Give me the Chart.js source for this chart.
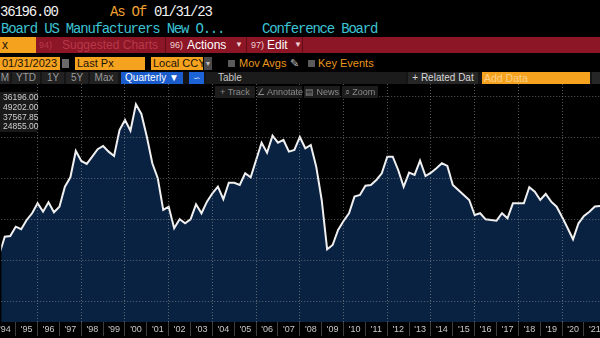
<!DOCTYPE html>
<html>
<head>
<meta charset="utf-8">
<script src="https://cdn.jsdelivr.net/npm/chart.js@4.4.0/dist/chart.umd.min.js"></script>
<style>
  html, body { margin: 0; padding: 0; background: #000; }
  #screen { position: relative; width: 600px; height: 338px; overflow: hidden; background: #000;
            font-family: "Liberation Sans", Arial, sans-serif; }
  .abs { position: absolute; white-space: nowrap; }
  .mono { font-family: "Liberation Mono", "DejaVu Sans Mono", monospace; font-size: 14px;
          letter-spacing: -1.2px; line-height: 16px; }
  .ui { font-size: 12px; line-height: 16px; }
  .box { background: #f5a21f; color: #1a1208; font-size: 11px; line-height: 13px; padding-left: 2px; box-sizing: border-box; }
  .chk { width: 7px; height: 7px; background: #5a5a5a; }
  .btn { background: #222; color: #9a9a9a; font-size: 10px; line-height: 12px; text-align: center; }
  .tool { background: #1d1d1d; color: #8a8a8a; font-size: 9px; line-height: 12px; text-align: center; }
  #legendBox { left: 0; top: 92px; width: 37px; height: 40px; background: rgba(28,28,28,0.9);
               color: #cfcfcf; font-size: 8.5px; line-height: 9.8px; padding: 1px 0 0 3px; box-sizing: border-box; }
  #c { position: absolute; left: 0; top: 84px; }
</style>
</head>
<body>
<div id="screen">
  <!-- title rows -->
  <div class="abs mono" style="left:0;top:4px;color:#f2f2f2">36196.00</div>
  <div class="abs mono" style="left:110px;top:4px;color:#f0a030">As Of</div>
  <div class="abs mono" style="left:154px;top:4px;color:#f2f2f2">01/31/23</div>
  <div class="abs mono" style="left:1px;top:21px;color:#3cc3d3">Board US Manufacturers New O...</div>
  <div class="abs mono" style="left:262px;top:21px;color:#3cc3d3">Conference Board</div>

  <!-- red menu bar -->
  <div class="abs" style="left:0;top:37px;width:600px;height:16px;background:#8c1526"></div>
  <div class="abs box" style="left:0;top:37px;width:36px;height:16px;line-height:16px;font-size:12px">x</div>
  <div class="abs" style="left:165px;top:37px;width:1px;height:16px;background:#5e0d19"></div>
  <div class="abs" style="left:246px;top:37px;width:1px;height:16px;background:#5e0d19"></div>
  <div class="abs" style="left:302px;top:37px;width:1px;height:16px;background:#5e0d19"></div>
  <div class="abs ui" style="left:39px;top:37px;font-size:9px;color:#b8394a">94)</div>
  <div class="abs ui" style="left:62px;top:37px;color:#b8394a">Suggested Charts</div>
  <div class="abs ui" style="left:170px;top:37px;font-size:9px;color:#efd0d4">96)</div>
  <div class="abs ui" style="left:187px;top:37px;color:#fff">Actions</div>
  <div class="abs ui" style="left:235px;top:37px;font-size:8px;color:#efd0d4">&#9660;</div>
  <div class="abs ui" style="left:251px;top:37px;font-size:9px;color:#efd0d4">97)</div>
  <div class="abs ui" style="left:267px;top:37px;color:#fff">Edit</div>
  <div class="abs ui" style="left:294px;top:37px;font-size:8px;color:#efd0d4">&#9660;</div>

  <!-- settings row -->
  <div class="abs box" style="left:0;top:57px;width:60px;height:13px">01/31/2023</div>
  <div class="abs" style="left:62px;top:59px;width:7px;height:9px;background:#6a6a6a"></div>
  <div class="abs box" style="left:75px;top:57px;width:70px;height:13px">Last Px</div>
  <div class="abs box" style="left:151px;top:57px;width:52px;height:13px">Local CCY</div>
  <div class="abs" style="left:204px;top:57px;width:8px;height:13px;background:#4a4a4a;color:#bbb;font-size:7px;line-height:13px;text-align:center">&#9660;</div>
  <div class="abs chk" style="left:228px;top:60px"></div>
  <div class="abs ui" style="left:239px;top:55px;color:#e8961e;font-size:11px">Mov Avgs</div>
  <div class="abs ui" style="left:290px;top:55px;color:#bbb;font-size:11px">&#9998;</div>
  <div class="abs chk" style="left:308px;top:60px"></div>
  <div class="abs ui" style="left:318px;top:55px;color:#e8961e;font-size:11px">Key Events</div>

  <!-- period row -->
  <div class="abs" style="left:0;top:72px;width:600px;height:12px;background:#151515"></div>
  <div class="abs btn" style="left:0;top:72px;width:10px;height:12px">M</div>
  <div class="abs btn" style="left:12px;top:72px;width:28px;height:12px">YTD</div>
  <div class="abs btn" style="left:42px;top:72px;width:22px;height:12px">1Y</div>
  <div class="abs btn" style="left:66px;top:72px;width:22px;height:12px">5Y</div>
  <div class="abs btn" style="left:90px;top:72px;width:28px;height:12px">Max</div>
  <div class="abs btn" style="left:121px;top:72px;width:62px;height:12px;background:#1b5ccc;color:#fff">Quarterly &#9660;</div>
  <div class="abs btn" style="left:189px;top:72px;width:15px;height:12px;background:#1d63d8;color:#cfe0ff;font-size:9px">&#8765;</div>
  <div class="abs btn" style="left:206px;top:72px;width:200px;height:12px;background:#1b1b1b;color:#c8c8c8;text-align:left;padding-left:12px;box-sizing:border-box">Table</div>
  <div class="abs btn" style="left:408px;top:72px;width:70px;height:12px;background:#262626;color:#d8d8d8">+ Related Dat</div>
  <div class="abs box" style="left:482px;top:72px;width:108px;height:12px;line-height:12px;color:#fcd08a;font-size:10.5px">Add Data</div>
  <div class="abs btn" style="left:592px;top:72px;width:8px;height:12px;background:#262626"></div>

  <canvas id="c" width="600" height="254"></canvas>

  <!-- chart tools and value panel -->
  <div class="abs tool" style="left:215px;top:86px;width:40px;height:12px">+ Track</div>
  <div class="abs tool" style="left:257px;top:86px;width:45px;height:12px">&#8736; Annotate</div>
  <div class="abs tool" style="left:304px;top:86px;width:36px;height:12px">&#9636; News</div>
  <div class="abs tool" style="left:342px;top:86px;width:36px;height:12px">&#8981; Zoom</div>
  <div class="abs" id="legendBox"></div>
</div>

<script>
  // last, high, average, low over the shown window
  var panelValues = ["36196.00", "49202.00", "37567.85", "24855.00"];

  var firstYear = 1994;
  var yearLabels = ["'94", "'95", "'96", "'97", "'98", "'99", "'00", "'01", "'02", "'03",
                    "'04", "'05", "'06", "'07", "'08", "'09", "'10", "'11", "'12", "'13",
                    "'14", "'15", "'16", "'17", "'18", "'19", "'20", "'21"];

  // quarterly new orders, Q1..Q4 per row
  var newOrders = [
    24855, 27670, 27790, 29300,   // 1994
    28880, 30390, 31480, 33100,   // 1995
    31740, 33270, 31640, 32550,   // 1996
    35800, 37330, 41610, 39980,   // 1997
    39500, 40680, 41890, 42420,   // 1998
    41500, 40800, 45020, 46650,   // 1999
    44910, 49202, 47630, 43930,   // 2000
    39610, 37170, 32020, 32550,   // 2001
    29040, 30500, 29850, 30500,   // 2002
    32940, 31480, 33370, 34730,   // 2003
    35800, 33760, 36450, 36450,   // 2004
    36080, 37980, 37330, 40150,   // 2005
    42960, 41330, 44100, 42960,   // 2006
    43400, 41500, 41770, 43890,   // 2007
    42050, 42580, 39060, 33640,   // 2008
    25630, 26320, 28760, 30230,   // 2009
    31480, 34180, 34450, 35970,   // 2010
    36080, 36890, 37980, 40680,   // 2011
    40680, 38520, 35800, 38080,   // 2012
    37710, 40030, 37540, 38080,   // 2013
    38800, 39610, 39170, 36080,   // 2014
    35270, 34450, 33640, 31200,   // 2015
    31480, 30500, 30390, 30280,   // 2016
    31480, 30670, 33100, 33100,   // 2017
    33100, 35710, 34990, 33640,   // 2018
    34620, 33370, 32550, 30880,   // 2019
    29090, 27250, 29850, 31040,   // 2020
    31740, 32580, 32670           // 2021
  ];

  // horizontal guide levels (the value axis labels sit off screen)
  var levelLines = [17060, 23720, 30390, 37060, 43720, 50390];

  document.getElementById('legendBox').innerHTML = panelValues.join('<br>');

  // each quarter is stamped at its quarter end
  var points = newOrders.map(function (v, i) {
    return { x: firstYear + (i + 1) / 4, y: v };
  });

  var gridColor = 'rgba(160,160,160,0.55)';

  new Chart(document.getElementById('c'), {
    type: 'line',
    data: {
      datasets: [{
        data: points,
        borderColor: '#f0f0f0',
        borderWidth: 2,
        backgroundColor: '#0a2242',
        fill: 'start',
        pointRadius: 0,
        tension: 0
      }]
    },
    options: {
      responsive: false,
      animation: false,
      events: [],
      layout: { padding: 0 },
      plugins: { legend: { display: false }, tooltip: { enabled: false } },
      scales: {
        x: {
          type: 'linear',
          min: 1994.337,
          max: 2021.734,
          afterBuildTicks: function (axis) {
            axis.ticks = yearLabels.map(function (l, i) { return { value: firstYear + i }; });
          },
          afterFit: function (axis) { axis.height = 16; },
          border: { display: false, dash: [1, 2] },
          grid: {
            z: 1,
            color: function (c) {
              return c.tick && c.tick.value % 2 === 0 ? gridColor : 'rgba(0,0,0,0)';
            },
            tickColor: '#3e3e3e',
            tickLength: 14
          },
          ticks: {
            autoSkip: false,
            maxRotation: 0,
            labelOffset: 11,
            padding: -12,
            color: '#c8c8c8',
            font: { family: 'Liberation Sans', size: 9 },
            callback: function (value, index) { return yearLabels[index]; }
          }
        },
        y: {
          position: 'right',
          min: 13800,
          max: 52500,
          afterBuildTicks: function (axis) {
            axis.ticks = levelLines.map(function (v) { return { value: v }; });
          },
          afterFit: function (axis) { axis.width = 0; },
          border: { display: false, dash: [1, 2] },
          grid: { z: 1, color: gridColor, drawTicks: false },
          ticks: { display: false }
        }
      }
    }
  });
</script>
</body>
</html>
